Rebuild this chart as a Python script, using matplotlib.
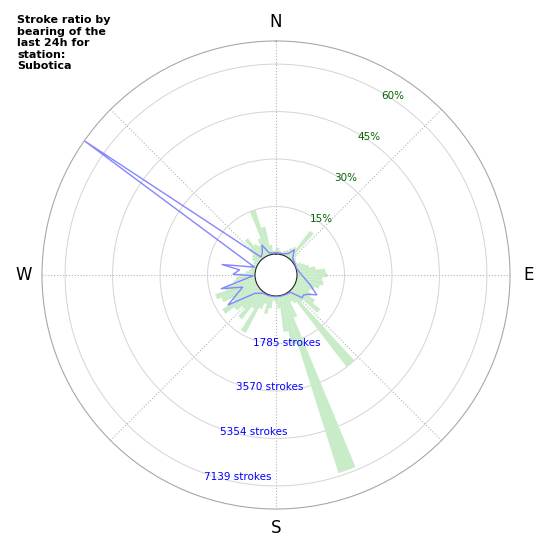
import numpy as np
import matplotlib
matplotlib.use("Agg")
import matplotlib.pyplot as plt

# ---------------- data ----------------
title = "Stroke ratio by\nbearing of the\nlast 24h for\nstation:\nSubotica"

bearing_deg = np.arange(0, 360, 5)
ratio_pct = [
    1.5, 2.0, 1.0, 0.5, 1.5, 2.0, 3.0, 4.0, 11.0, 2.5, 1.5, 1.0,      # 0-55
    1.0, 2.0, 3.0, 4.0, 6.0, 9.0, 9.5, 8.0, 8.5, 7.5, 6.0, 5.0,       # 60-115
    6.0, 8.0, 11.0, 5.0, 30.0, 4.0, 3.0, 8.0, 59.0, 16.0, 11.5, 4.0,  # 120-175
    2.0, 1.5, 4.0, 6.0, 3.0, 5.0, 14.0, 6.0, 11.0, 8.0, 10.0, 13.5,   # 180-235
    9.0, 12.0, 13.5, 10.0, 7.0, 6.0, 5.0, 3.0, 2.0, 1.5, 2.0, 1.0,    # 240-295
    1.5, 2.5, 3.0, 5.0, 8.0, 5.0, 4.0, 6.0, 15.0, 9.0, 3.0, 1.0,      # 300-355
]

line_bearing_deg = [0, 10, 20, 30, 36, 45, 60, 72, 90, 106, 116, 121, 126, 131,
                    140, 150, 165, 180, 200, 215, 229, 238, 250, 256, 268, 271,
                    278, 281, 290, 305, 320, 328, 335, 342, 350]
line_strokes = [48, 48, 60, 143, 381, 95, 36, 24, 178, 547, 916, 619, 488, 512,
                60, 36, 24, 24, 36, 48, 262, 1333, 547, 1333, 71, 821,
                595, 1273, 71, 8007, 95, 178, 452, 95, 48]

pct_ticks = [15, 30, 45, 60]
pct_labels = ["15%", "30%", "45%", "60%"]
stroke_ticks = [1785, 3570, 5354, 7139]
stroke_labels = ["1785 strokes", "3570 strokes", "5354 strokes", "7139 strokes"]
compass_labels = ["N", "", "E", "", "S", "", "W", ""]

# ---------------- figure ----------------
strokes_per_pct = stroke_ticks[-1] / pct_ticks[-1]
line_pct = np.array(line_strokes) / strokes_per_pct
rmax = line_pct.max()
hole_frac = 21 / 234

fig = plt.figure(figsize=(5.5, 5.5), dpi=100)
ax = fig.add_axes([42 / 550, 41 / 550, 468 / 550, 468 / 550], projection="polar")
ax.set_theta_zero_location("N")
ax.set_theta_direction(-1)

ax.bar(np.deg2rad(bearing_deg), ratio_pct, width=np.deg2rad(5), bottom=0,
       color="#c8ecc8", edgecolor="none", align="center", zorder=2)

th = np.deg2rad(np.r_[line_bearing_deg, line_bearing_deg[0] + 360])
rr = np.r_[line_pct, line_pct[0]]
ax.plot(th, rr, color="#8585ff", lw=1.0, zorder=3)

ax.set_ylim(0, rmax)
ax.set_rorigin(-hole_frac * rmax / (1 - hole_frac))

ax.set_yticks(pct_ticks)
ax.set_yticklabels([])
ax.set_xticks(np.deg2rad(np.arange(0, 360, 45)))
ax.set_xticklabels(compass_labels, fontsize=12)
ax.tick_params(axis="x", pad=3)

ax.yaxis.grid(True, color="#d4d4d4", lw=0.7, ls="-")
ax.xaxis.grid(True, color="#b4b4b4", lw=0.8, ls=":")
ax.spines["polar"].set_color("#a8a8a8")
ax.spines["polar"].set_linewidth(0.8)
ax.spines["inner"].set_color("#222222")
ax.spines["inner"].set_linewidth(0.8)
ax.spines["inner"].set_visible(True)

for t, lab in zip(pct_ticks, pct_labels):
    ax.annotate(lab, xy=(np.deg2rad(30), t), xytext=(0, -2.5),
                textcoords="offset points", ha="left", va="center",
                color="darkgreen", fontsize=7.5, zorder=5)
for t, lab in zip(pct_ticks, stroke_labels):
    ax.annotate(lab, xy=(np.deg2rad(200), t), xytext=(0, -2.5),
                textcoords="offset points", ha="left", va="center",
                color="blue", fontsize=7.5, zorder=5)

fig.text(17 / 550, 1 - 15 / 550, title, ha="left", va="top",
         fontsize=8, fontweight="bold")

fig.savefig("out.png", dpi=100)
